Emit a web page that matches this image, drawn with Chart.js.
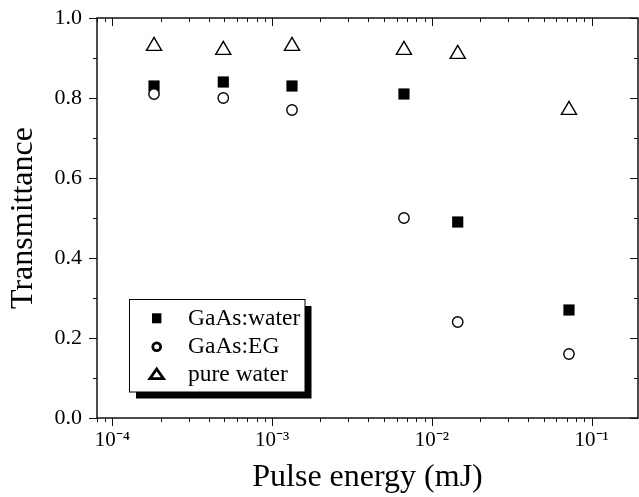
<!DOCTYPE html>
<html><head><meta charset="utf-8">
<style>html,body{margin:0;padding:0;background:#fff}#wrap{width:639px;height:497px;position:relative}</style>
<script src="https://cdn.jsdelivr.net/npm/chart.js@4/dist/chart.umd.min.js"></script>
</head><body><div id="wrap"><canvas id="c" width="639" height="497"></canvas></div>
<script>
// ---- data ----
const seriesNames = ['GaAs:water', 'GaAs:EG', 'pure water'];
const pulseEnergy = [1.82e-4, 4.94e-4, 1.33e-3, 6.68e-3, 1.45e-2, 7.21e-2];
const gaasWater  = [0.83, 0.84, 0.83, 0.81, 0.49, 0.27];
const gaasEG     = [0.81, 0.80, 0.77, 0.50, 0.24, 0.16];
const pureWater  = [0.93, 0.92, 0.93, 0.92, 0.91, 0.77];
const yTickValues = [0, 0.2, 0.4, 0.6, 0.8, 1.0];
const xDecadeLabels = {'-4': '10⁻⁴', '-3': '10⁻³', '-2': '10⁻²', '-1': '10⁻¹'};
const xTitle = 'Pulse energy (mJ)';
const yTitle = 'Transmittance';

const SERIF = "'Liberation Serif', 'Times New Roman', serif";
const pts = ys => pulseEnergy.map((x, i) => ({x: x, y: ys[i]}));

const framePlugin = {
  id: 'frame',
  afterDraw(chart) {
    const ctx = chart.ctx, a = chart.chartArea, xs = chart.scales.x, ys = chart.scales.y;
    ctx.save();
    ctx.strokeStyle = '#111';
    ctx.lineWidth = 1.5;
    ctx.strokeRect(a.left, a.top, a.right - a.left, a.bottom - a.top);
    ctx.lineWidth = 1;
    ctx.beginPath();
    // y ticks: left outward, right inward
    for (let i = 0; i <= 10; i++) {
      const py = Math.round(ys.getPixelForValue(i / 10)) + 0.5;
      const len = i % 2 === 0 ? 8 : 4;
      ctx.moveTo(a.left - len, py); ctx.lineTo(a.left, py);
      ctx.moveTo(a.right - len, py); ctx.lineTo(a.right, py);
    }
    // x ticks: bottom outward, top inward
    for (let e = -5; e <= 0; e++) {
      for (let m = 1; m <= 9; m++) {
        const v = m * Math.pow(10, e);
        if (v < xs.min || v > xs.max) continue;
        const px = Math.round(xs.getPixelForValue(v)) + 0.5;
        const len = m === 1 ? 8 : 4;
        ctx.moveTo(px, a.bottom); ctx.lineTo(px, a.bottom + len);
        ctx.moveTo(px, a.top); ctx.lineTo(px, a.top + len);
      }
    }
    ctx.stroke();

    // legend box with drop shadow
    const L = {x: 129.5, y: 299.5, w: 175.5, h: 92.5};
    ctx.fillStyle = '#000';
    ctx.fillRect(L.x + 6.5, L.y + 6.5, L.w, L.h);
    ctx.fillStyle = '#fff';
    ctx.fillRect(L.x, L.y, L.w, L.h);
    ctx.strokeStyle = '#000';
    ctx.lineWidth = 1;
    ctx.strokeRect(L.x, L.y, L.w, L.h);

    const mx = 156.7, tx = 188;
    const rowsY = [318.3, 346.7, 374];
    ctx.fillStyle = '#000';
    ctx.fillRect(mx - 4.7, rowsY[0] - 5, 9.4, 10);
    ctx.lineWidth = 2.8;
    ctx.beginPath(); ctx.arc(mx, rowsY[1], 3.9, 0, Math.PI * 2); ctx.stroke();
    ctx.lineJoin = 'miter';
    ctx.beginPath();
    ctx.moveTo(mx, rowsY[2] - 5);
    ctx.lineTo(mx + 6.8, rowsY[2] + 4.6);
    ctx.lineTo(mx - 6.8, rowsY[2] + 4.6);
    ctx.closePath(); ctx.stroke();

    ctx.fillStyle = '#000';
    ctx.font = '23.5px ' + SERIF;
    ctx.textBaseline = 'alphabetic';
    ctx.textAlign = 'left';
    const baselines = [325, 353, 381];
    seriesNames.forEach((n, i) => ctx.fillText(n, tx, baselines[i]));
    ctx.restore();
  }
};

new Chart(document.getElementById('c'), {
  type: 'scatter',
  data: {
    datasets: [
      {label: seriesNames[0], data: pts(gaasWater), pointStyle: 'rect', pointRadius: 7.9,
       backgroundColor: '#000', borderColor: '#000', borderWidth: 0, order: 2},
      {label: seriesNames[1], data: pts(gaasEG), pointStyle: 'circle', pointRadius: 5.2,
       backgroundColor: '#fff', borderColor: '#000', borderWidth: 1.4, order: 1},
      {label: seriesNames[2], data: pts(pureWater), pointStyle: 'triangle', pointRadius: 8.7,
       backgroundColor: 'rgba(255,255,255,0)', borderColor: '#000', borderWidth: 1.4, order: 3}
    ]
  },
  options: {
    responsive: false,
    animation: false,
    devicePixelRatio: 1,
    events: [],
    layout: {autoPadding: false, padding: {top: 18, right: 1, left: 0, bottom: 0}},
    plugins: {legend: {display: false}, tooltip: {enabled: false}},
    scales: {
      x: {
        type: 'logarithmic', position: 'bottom', min: 8e-5, max: 0.195,
        grid: {display: false, drawTicks: false},
        border: {display: false},
        afterFit: s => { s.height = 79; s.paddingLeft = 0; s.paddingRight = 0; },
        ticks: {
          autoSkip: false, maxRotation: 0, padding: 10, color: '#000',
          font: {family: SERIF, size: 21},
          callback: v => {
            const e = Math.log10(v);
            const r = Math.round(e);
            return Math.abs(e - r) < 1e-6 && xDecadeLabels[String(r)] ? xDecadeLabels[String(r)] : '';
          }
        },
        title: {display: true, text: xTitle, color: '#000',
          font: {family: SERIF, size: 32, lineHeight: 1}, padding: {top: 0, bottom: 3}}
      },
      y: {
        min: 0, max: 1,
        grid: {display: false, drawTicks: false},
        border: {display: false},
        afterFit: s => { s.width = 97; s.paddingTop = 0; s.paddingBottom = 0; },
        afterBuildTicks: s => { s.ticks = yTickValues.map(v => ({value: v})); },
        ticks: {padding: 15, color: '#000', font: {family: SERIF, size: 22},
          callback: v => Number(v).toFixed(1)},
        title: {display: true, text: yTitle, color: '#000',
          font: {family: SERIF, size: 32, lineHeight: 1}, padding: {top: 8, bottom: 0}}
      }
    }
  },
  plugins: [framePlugin]
});
</script>
</body></html>
